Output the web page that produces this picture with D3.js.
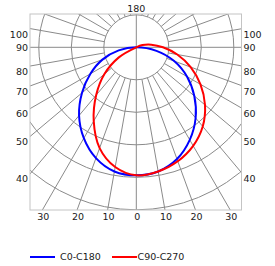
<!DOCTYPE html>
<html>
<head>
<meta charset="utf-8">
<script src="https://cdn.jsdelivr.net/npm/d3@7"></script>
<style>
  body { margin: 0; background: #fff; }
  text { font-family: "DejaVu Sans", sans-serif; font-size: 9.5px; fill: #1a1a1a; }
</style>
</head>
<body>
<script>
var width = 275,
    height = 266;

// gamma angles (deg, 0 = straight down)
var gamma = [0, 10, 20, 30, 40, 50, 60, 70, 80, 90, 100, 110, 120, 130, 140, 150, 160, 170, 180];

// intensities (cd/klm)
var c180 = [394, 388, 363, 323, 274, 218, 163, 111, 55, 0, 0, 0, 0, 0, 0, 0, 0, 0, 0];   // left half
var c0   = [394, 388, 366, 329, 284, 233, 180, 124, 63, 0, 0, 0, 0, 0, 0, 0, 0, 0, 0];   // right half
var c270 = [394, 374, 330, 262, 192, 128, 62, 0, 0, 0, 0, 0, 0, 0, 0, 0, 0, 0, 0];      // left half
var c90  = [394, 388, 373, 350, 318, 276, 228, 178, 128, 82, 47, 20, 0, 0, 0, 0, 0, 0, 0]; // right half

var ringValues = [100, 200, 300, 400, 500, 600];
var sideTicks = [40, 50, 60, 70, 80, 90, 100];
var bottomTicks = [0, 10, 20, 30];

var seriesNames = ["C0-C180", "C90-C270"];
var seriesColors = ["#0000ff", "#ff0000"];

var box = { x0: 30, x1: 241.5, y0: 14, y1: 210 };
var cx = 136.3, cy = 47.3;

var r = d3.scaleLinear().domain([0, 100]).range([0, 32.5]);
var rad = function(d) { return d * Math.PI / 180; };

var svg = d3.select("body").append("svg")
    .attr("width", width)
    .attr("height", height);

svg.append("defs").append("clipPath").attr("id", "clip")
  .append("rect")
    .attr("x", box.x0).attr("y", box.y0)
    .attr("width", box.x1 - box.x0).attr("height", box.y1 - box.y0);

// GRID
var grid = svg.append("g")
    .attr("clip-path", "url(#clip)")
    .attr("fill", "none")
    .attr("stroke", "#8a8a8a")
    .attr("stroke-width", 1);

grid.selectAll("circle")
    .data(ringValues)
  .enter().append("circle")
    .attr("cx", cx).attr("cy", cy)
    .attr("r", function(d) { return r(d); });

// radial spokes every 10 deg, both sides, starting at inner ring
var spokes = [];
gamma.forEach(function(g) {
  if (g == 0 || g == 90 || g == 180) return;
  spokes.push({ g: g, s: 1 }, { g: g, s: -1 });
});

grid.selectAll("line.spoke")
    .data(spokes)
  .enter().append("line")
    .attr("class", "spoke")
    .attr("x1", function(d) { return cx + d.s * r(100) * Math.sin(rad(d.g)); })
    .attr("y1", function(d) { return cy + r(100) * Math.cos(rad(d.g)); })
    .attr("x2", function(d) { return cx + d.s * 400 * Math.sin(rad(d.g)); })
    .attr("y2", function(d) { return cy + 400 * Math.cos(rad(d.g)); });

grid.append("line")
    .attr("x1", box.x0).attr("x2", box.x1)
    .attr("y1", cy).attr("y2", cy);
grid.append("line")
    .attr("x1", cx).attr("x2", cx)
    .attr("y1", box.y0).attr("y2", box.y1);

svg.append("rect")
    .attr("x", box.x0).attr("y", box.y0)
    .attr("width", box.x1 - box.x0).attr("height", box.y1 - box.y0)
    .attr("fill", "none")
    .attr("stroke", "#c4c4c4");

// ANGLE LABELS
var sideY = function(g) {
  var dx = box.x1 - cx;
  return cy + dx * Math.cos(rad(g)) / Math.sin(rad(g));
};

svg.append("g").selectAll("text")
    .data(sideTicks)
  .enter().append("text")
    .attr("x", box.x0 - 2)
    .attr("y", function(d) { return sideY(d) + (d == 90 ? 0 : 6); })
    .attr("dy", "0.35em")
    .attr("text-anchor", "end")
    .text(function(d) { return d; });

svg.append("g").selectAll("text")
    .data(sideTicks)
  .enter().append("text")
    .attr("x", box.x1 + 2)
    .attr("y", function(d) { return sideY(d) + (d == 90 ? 0 : 6); })
    .attr("dy", "0.35em")
    .attr("text-anchor", "start")
    .text(function(d) { return d; });

var bottomLabels = [];
bottomTicks.forEach(function(g) {
  bottomLabels.push({ g: g, s: 1 });
  if (g != 0) bottomLabels.push({ g: g, s: -1 });
});

svg.append("g").selectAll("text")
    .data(bottomLabels)
  .enter().append("text")
    .attr("x", function(d) { return cx + 1 + d.s * (box.y1 - cy) * Math.tan(rad(d.g)); })
    .attr("y", box.y1 + 7)
    .attr("dy", "0.35em")
    .attr("text-anchor", "middle")
    .text(function(d) { return d.g; });

svg.append("text")
    .attr("x", cx)
    .attr("y", box.y0 - 2)
    .attr("text-anchor", "middle")
    .text("180");

// CURVES
function polarPoints(left, right) {
  var pts = [];
  // left half from top to bottom, then right half from bottom to top
  for (var i = gamma.length - 1; i >= 0; i--) {
    pts.push([Math.PI + rad(gamma[i]), left[i]]);
  }
  for (var j = 1; j < gamma.length; j++) {
    pts.push([Math.PI - rad(gamma[j]), right[j]]);
  }
  // keep a single point at the origin
  var out = [];
  pts.forEach(function(p) {
    if (p[1] == 0 && out.some(function(q) { return q[1] == 0; })) return;
    out.push(p);
  });
  return out;
}

var line = d3.lineRadial()
    .angle(function(d) { return d[0]; })
    .radius(function(d) { return r(d[1]); })
    .curve(d3.curveCatmullRomClosed.alpha(0.5));

var curves = [polarPoints(c180, c0), polarPoints(c270, c90)];

svg.append("g")
    .attr("transform", "translate(" + cx + "," + cy + ")")
  .selectAll("path")
    .data(curves)
  .enter().append("path")
    .attr("d", line)
    .attr("fill", "none")
    .attr("stroke", function(d, i) { return seriesColors[i]; })
    .attr("stroke-width", 2);

// LEGEND
var legendX = [30, 112];
var legend = svg.append("g").selectAll("g")
    .data(seriesNames)
  .enter().append("g")
    .attr("transform", function(d, i) { return "translate(" + legendX[i] + ",257)"; });

legend.append("line")
    .attr("x1", 0).attr("x2", 25)
    .attr("stroke", function(d, i) { return seriesColors[i]; })
    .attr("stroke-width", 2);

legend.append("text")
    .attr("x", function(d, i) { return i == 0 ? 30 : 25.5; })
    .attr("dy", "0.35em")
    .text(function(d) { return d; });
</script>
</body>
</html>
